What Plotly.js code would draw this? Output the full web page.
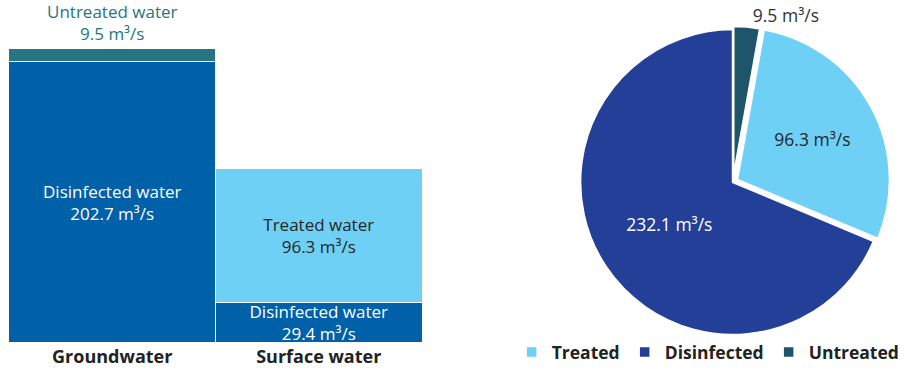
<!DOCTYPE html>
<html>
<head>
<meta charset="utf-8">
<script src="https://cdn.plot.ly/plotly-3.0.1.min.js"></script>
<style>
  html, body { margin: 0; padding: 0; background: #ffffff; }
  #chart { width: 917px; height: 370px; }
</style>
</head>
<body>
<div id="chart"></div>
<script>
// Water supply by source and treatment level (m³/s)
const sources = ['Groundwater', 'Surface water'];
const disinfectedBySource = [202.7, 29.4];
const treatedBySource = [null, 96.3];
const untreatedBySource = [9.5, null];

// Totals by treatment level for the pie
const pieLabels = ['Treated', 'Disinfected', 'Untreated'];
const pieValues = [96.3, 232.1, 9.5];

const FONT = 'Open Sans, Noto Sans, sans-serif';
const unit = ' m³/s';

function segmentText(label, values) {
  return values.map(v => (v == null ? '' : label + '<br>' + v + unit));
}

const barColors = { disinfected: '#0060a8', treated: '#6fd0f6', untreated: '#277582' };
const pieColors = ['#6fd0f6', '#233f97', '#1f556a'];

const barCommon = {
  type: 'bar',
  x: sources,
  xaxis: 'x',
  yaxis: 'y',
  showlegend: false,
  hoverinfo: 'skip',
  textangle: 0,
  constraintext: 'none',
  insidetextanchor: 'middle',
  cliponaxis: false
};

const traces = [
  Object.assign({}, barCommon, {
    name: 'Disinfected water',
    y: disinfectedBySource,
    text: segmentText('Disinfected water', disinfectedBySource),
    textposition: 'inside',
    textfont: { family: FONT, size: 17, color: '#ffffff' },
    marker: { color: barColors.disinfected, line: { color: '#ffffff', width: 1 } }
  }),
  Object.assign({}, barCommon, {
    name: 'Treated water',
    y: treatedBySource,
    text: segmentText('Treated water', treatedBySource),
    textposition: 'inside',
    textfont: { family: FONT, size: 17, color: '#262626' },
    marker: { color: barColors.treated, line: { color: '#ffffff', width: 1 } }
  }),
  Object.assign({}, barCommon, {
    name: 'Untreated water',
    y: untreatedBySource,
    text: segmentText('Untreated water', untreatedBySource),
    textposition: 'outside',
    outsidetextfont: { family: FONT, size: 17, color: barColors.untreated },
    marker: { color: barColors.untreated, line: { color: '#ffffff', width: 1 } }
  })
];

// The pie starts with the untreated share at 12 o'clock, so rotate by it
const pieTotal = pieValues.reduce((a, b) => a + b, 0);
const untreatedShare = pieValues[2] / pieTotal;

traces.push({
  type: 'pie',
  labels: pieLabels,
  values: pieValues,
  sort: false,
  direction: 'clockwise',
  rotation: untreatedShare * 360,
  domain: { x: [0.6276, 0.9711], y: [0.0824, 0.9338] },
  marker: { colors: pieColors, line: { color: '#ffffff', width: 2.5 } },
  pull: [0.03, 0, 0.02],
  texttemplate: '%{value}' + unit,
  textposition: ['inside', 'inside', 'outside'],
  insidetextorientation: 'horizontal',
  textfont: { family: FONT, size: 17.5, color: ['#262626', '#ffffff', '#333333'] },
  outsidetextfont: { family: FONT, size: 17.5, color: '#333333' },
  hoverinfo: 'skip',
  showlegend: true
});

const layout = {
  width: 917,
  height: 370,
  margin: { l: 0, r: 0, t: 0, b: 0 },
  paper_bgcolor: '#ffffff',
  plot_bgcolor: 'rgba(0,0,0,0)',
  barmode: 'stack',
  bargap: 0,
  font: { family: FONT, color: '#222222' },
  xaxis: {
    domain: [0.0098, 0.4602],
    type: 'category',
    showgrid: false,
    zeroline: false,
    showline: false,
    ticks: '',
    ticklabelstandoff: 1,
    tickfont: { family: FONT, size: 18, weight: 'bold', color: '#222222' }
  },
  yaxis: {
    domain: [0.073, 0.9595],
    range: [0, 236],
    visible: false,
    showgrid: false,
    zeroline: false
  },
  legend: {
    orientation: 'h',
    x: 0.558,
    xanchor: 'left',
    y: 0,
    yanchor: 'bottom',
    font: { family: FONT, size: 17.5, weight: 'bold', color: '#222222' },
    itemwidth: 30,
    traceorder: 'normal'
  }
};

Plotly.newPlot('chart', traces, layout, { staticPlot: true, displayModeBar: false });
</script>
</body>
</html>
